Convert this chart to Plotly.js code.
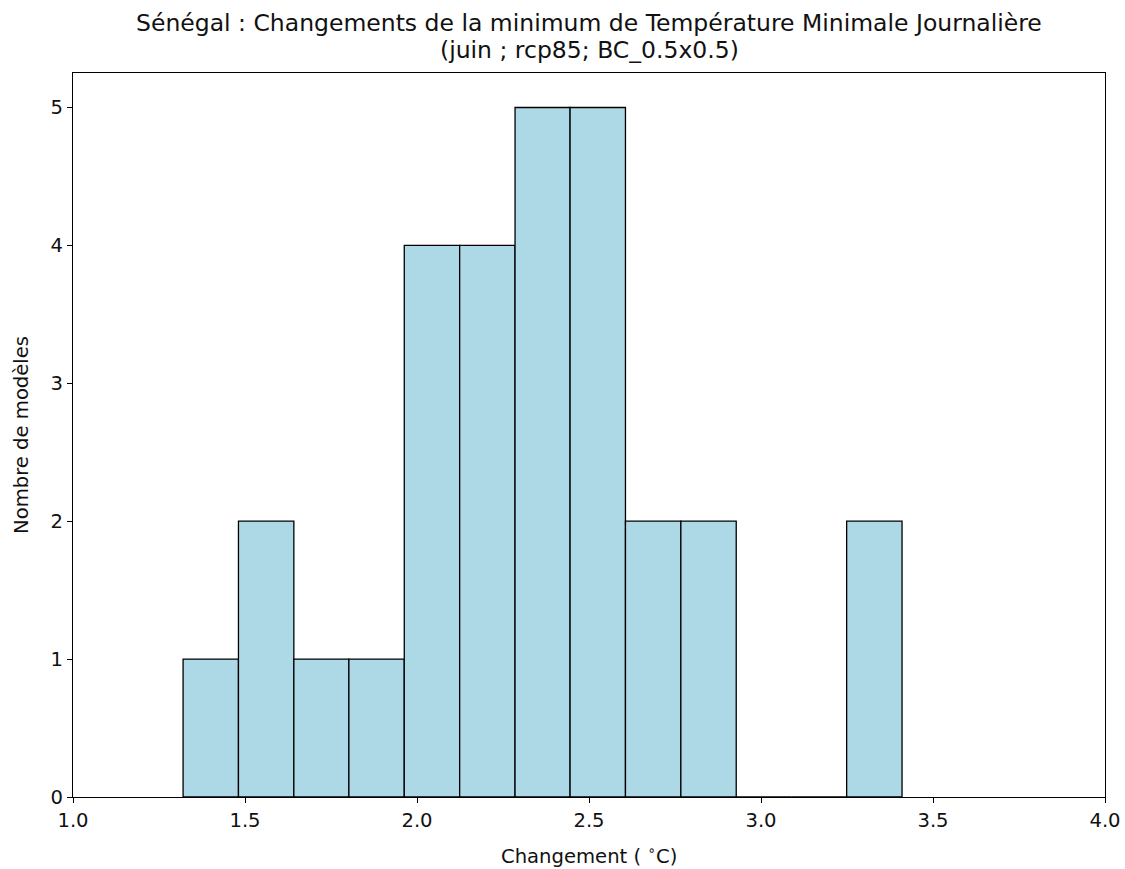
<!DOCTYPE html>
<html>
<head>
<meta charset="utf-8">
<script src="https://cdn.plot.ly/plotly-3.0.1.min.js"></script>
<style>html,body{margin:0;padding:0;background:#fff;}#chart{width:1125px;height:869px;}</style>
</head>
<body>
<div id="chart"></div>
<script>
// Histogram bin edges (°C) and model counts per bin
const binEdges = [1.320, 1.481, 1.642, 1.802, 1.963, 2.124, 2.285, 2.445, 2.606, 2.767, 2.928, 3.088, 3.249, 3.410];
const counts   = [1, 2, 1, 1, 4, 4, 5, 5, 2, 2, 0, 0, 2];
const xTicks = [1.0, 1.5, 2.0, 2.5, 3.0, 3.5, 4.0];
const yTicks = [0, 1, 2, 3, 4, 5];
const titleLine1 = "Sénégal : Changements de la minimum de Température Minimale Journalière";
const titleLine2 = "(juin ; rcp85; BC_0.5x0.5)";
const xLabel = "Changement ( <sup>∘</sup>C)";
const yLabel = "Nombre de modèles";

const lefts = binEdges.slice(0, -1);
const widths = lefts.map((e, i) => binEdges[i + 1] - e);

const font = "DejaVu Sans, sans-serif";
const txt = (size) => ({family: font, size: size, color: '#111111'});

const trace = {
  type: 'bar',
  x: lefts,
  y: counts,
  width: widths,
  offset: 0,
  marker: {color: '#ADD8E6', line: {color: '#000000', width: 1.3}},
  hoverinfo: 'x+y'
};

const layout = {
  width: 1125, height: 869,
  margin: {l: 73, r: 20, t: 73, b: 72},
  paper_bgcolor: '#ffffff', plot_bgcolor: '#ffffff',
  font: txt(19.6),
  showlegend: false,
  bargap: 0,
  xaxis: {
    range: [1.0, 4.0], tickvals: xTicks, tickformat: '.1f',
    ticks: 'outside', ticklen: 5, tickwidth: 1, tickcolor: '#000',
    showline: true, linecolor: '#000', linewidth: 1, mirror: true,
    showgrid: false, zeroline: false,
    tickfont: txt(19.6)
  },
  yaxis: {
    range: [0, 5.25], tickvals: yTicks,
    ticks: 'outside', ticklen: 5, tickwidth: 1, tickcolor: '#000',
    showline: true, linecolor: '#000', linewidth: 1, mirror: true,
    showgrid: false, zeroline: false,
    tickfont: txt(19.6)
  },
  annotations: [
    {text: titleLine1, xref: 'paper', yref: 'paper', x: 0.5, y: 1, xanchor: 'center', yanchor: 'middle',
     yshift: 50, showarrow: false, font: txt(23.5)},
    {text: titleLine2, xref: 'paper', yref: 'paper', x: 0.5, y: 1, xanchor: 'center', yanchor: 'middle',
     yshift: 23, showarrow: false, font: txt(23.5)},
    {text: xLabel, xref: 'paper', yref: 'paper', x: 0.5, y: 0, xanchor: 'center', yanchor: 'middle',
     yshift: -58, showarrow: false, font: txt(19.6)},
    {text: yLabel, xref: 'paper', yref: 'paper', x: 0, y: 0.5, xanchor: 'center', yanchor: 'middle',
     xshift: -52, textangle: -90, showarrow: false, font: txt(19.6)}
  ]
};

Plotly.newPlot('chart', [trace], layout, {displayModeBar: false, staticPlot: true});
</script>
</body>
</html>
